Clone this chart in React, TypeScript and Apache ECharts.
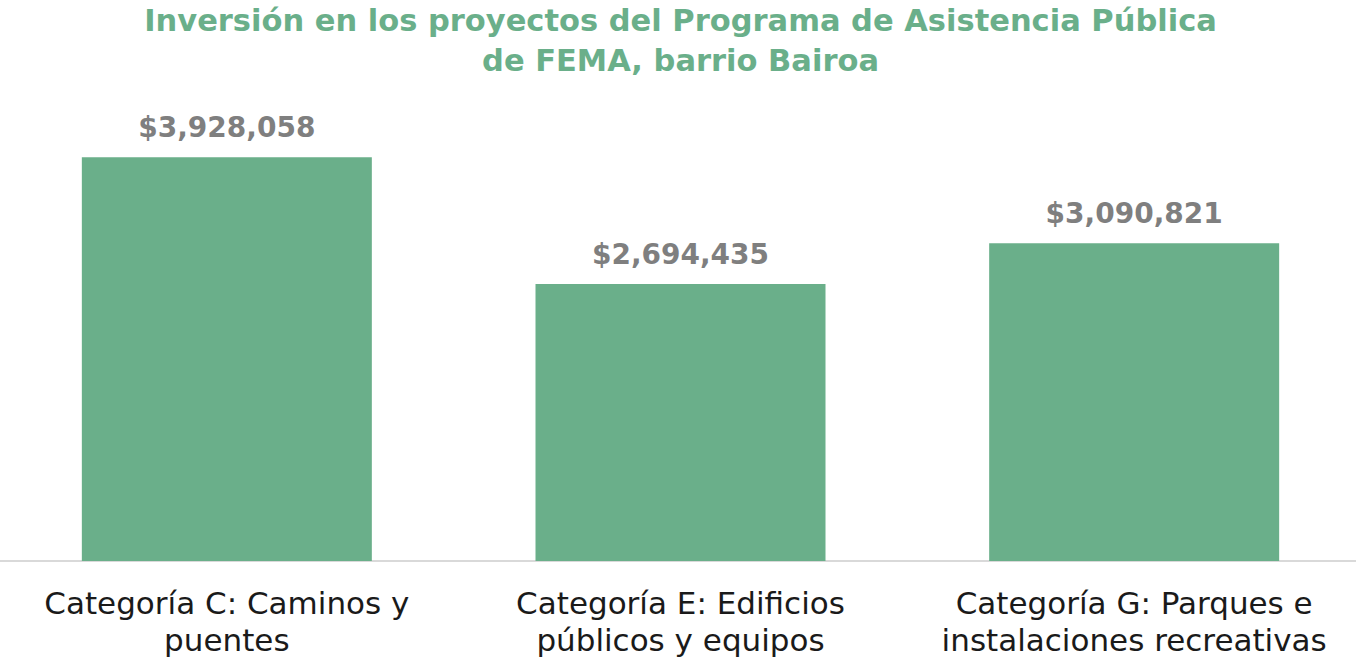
import React, { useEffect, useRef } from "react";
import * as echarts from "echarts";

const titleLines = [
  "Inversión en los proyectos del Programa de Asistencia Pública",
  "de FEMA, barrio Bairoa",
];
const categories = [
  "Categoría C: Caminos y\npuentes",
  "Categoría E: Edificios\npúblicos y equipos",
  "Categoría G: Parques e\ninstalaciones recreativas",
];
const investment = [3928058, 2694435, 3090821];

const FONT = "DejaVu Sans";

export default function App() {
  const ref = useRef<HTMLDivElement>(null);
  useEffect(() => {
    document.body.style.margin = "0";
    const chart = echarts.init(ref.current!, null, { renderer: "svg" });
    chart.setOption({
      animation: false,
      backgroundColor: "#ffffff",
      title: {
        text: titleLines.join("\n"),
        left: "center",
        top: 0,
        padding: 0,
        textStyle: {
          fontFamily: FONT,
          fontWeight: "bold",
          fontSize: 30.5,
          lineHeight: 40,
          color: "#6aaf8a",
        },
      },
      grid: { left: 0, right: 0, top: 47, bottom: 105, outerBoundsMode: "none" },
      xAxis: {
        type: "category",
        data: categories,
        axisLine: { lineStyle: { color: "#d9d9d9", width: 2 } },
        axisTick: { show: false },
        axisLabel: {
          interval: 0,
          margin: 23,
          fontFamily: FONT,
          fontSize: 31,
          lineHeight: 37,
          color: "#1a1a1a",
        },
      },
      yAxis: {
        type: "value",
        min: 0,
        max: 5000000,
        show: false,
        splitLine: { show: false },
      },
      series: [
        {
          type: "bar",
          data: investment,
          barWidth: 290,
          itemStyle: { color: "#6aaf8a" },
          label: {
            show: true,
            position: "top",
            distance: 16,
            fontFamily: FONT,
            fontWeight: "bold",
            fontSize: 28,
            color: "#7f7f7f",
            formatter: (p: any) => "$" + Number(p.value).toLocaleString("en-US"),
          },
        },
      ],
    });
    return () => chart.dispose();
  }, []);
  return (
    <div style={{ width: 1356, height: 666, overflow: "hidden" }}>
      <div ref={ref} style={{ width: 1361, height: 666 }} />
    </div>
  );
}
